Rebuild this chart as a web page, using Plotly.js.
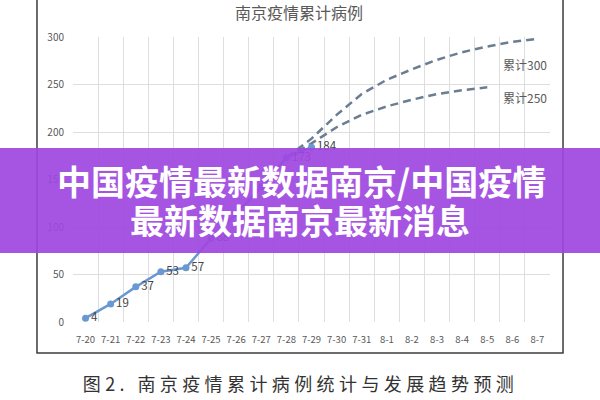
<!DOCTYPE html>
<html>
<head>
<meta charset="utf-8">
<script src="https://cdn.plot.ly/plotly-3.0.1.min.js"></script>
<style>
html,body{margin:0;padding:0;background:#fff;}
#chart{width:600px;height:400px;}
</style>
</head>
<body>
<div id="chart"></div>
<script>
// ---- data ----
const categories = ['7-20','7-21','7-22','7-23','7-24','7-25','7-26','7-27','7-28','7-29',
                    '7-30','7-31','8-1','8-2','8-3','8-4','8-5','8-6','8-7'];
const actualDates = ['7-20','7-21','7-22','7-23','7-24','7-25','7-26','7-27','7-28','7-29'];
const actualCases = [4, 19, 37, 53, 57, 88, 114, 142, 173, 184];
// labels hidden behind the banner in the reference are left blank
const actualLabels = ['4','19','37','53','57','88','','','173','184'];
const forecast300Dates = ['7-28','7-29','7-30','7-31','8-1','8-2','8-3','8-4','8-5','8-6','8-7'];
const forecast300 = [173, 193, 218, 240, 255, 266, 276, 284, 290, 295, 298];
const forecast250Dates = ['7-28','7-29','7-30','7-31','8-1','8-2','8-3','8-4','8-5'];
const forecast250 = [173, 188, 205, 218, 227, 234, 240, 244, 247];
const yTicks = [0, 50, 100, 150, 200, 250, 300];

const chartTitle = '南京疫情累计病例';
const label300 = '累计300';
const label250 = '累计250';
const bannerLine1 = '中国疫情最新数据南京/中国疫情';
const bannerLine2 = '最新数据南京最新消息';
const caption = '图2. 南京疫情累计病例统计与发展趋势预测';

const CJK = '"Noto Sans CJK SC", "Noto Sans", sans-serif';

const traces = [
  {
    x: forecast300Dates, y: forecast300, type: 'scatter', mode: 'lines',
    line: {color: '#6b7d92', width: 2.5, dash: '8px,5px'}, hoverinfo: 'skip'
  },
  {
    x: forecast250Dates, y: forecast250, type: 'scatter', mode: 'lines',
    line: {color: '#6b7d92', width: 2.5, dash: '8px,5px'}, hoverinfo: 'skip'
  },
  {
    x: actualDates, y: actualCases, type: 'scatter', mode: 'lines+markers+text',
    line: {color: '#6a98d0', width: 2.5},
    marker: {color: '#6a98d0', size: 7},
    text: actualLabels,
    textposition: 'middle right',
    textfont: {family: CJK, size: 11.5, color: '#454545'},
    cliponaxis: false
  }
];

const layout = {
  width: 600, height: 400,
  margin: {l: 73, r: 50, t: 37, b: 78},
  paper_bgcolor: '#ffffff', plot_bgcolor: '#ffffff',
  showlegend: false,
  font: {family: CJK, color: '#595959'},
  xaxis: {
    type: 'category', categoryorder: 'array', categoryarray: categories,
    range: [-0.5, categories.length - 0.5],
    tickson: 'boundaries', showgrid: true, gridcolor: '#dedede', gridwidth: 1,
    ticks: '', showline: false, zeroline: false, tickangle: 0,
    tickfont: {family: CJK, size: 9.5, color: '#595959'},
    ticklabelstandoff: 10, fixedrange: true
  },
  yaxis: {
    range: [0, 300], tickvals: yTicks, ticktext: yTicks.map(String),
    showgrid: true, gridcolor: '#dedede', gridwidth: 1,
    zeroline: false, showline: false, ticks: '',
    tickfont: {family: CJK, size: 10, color: '#595959'},
    ticklabelstandoff: 8, fixedrange: true
  },
  shapes: [
    {type: 'rect', xref: 'paper', yref: 'paper',
     x0: -0.0755, x1: 1.0273, y0: -0.1088, y1: 1.25,
     line: {color: '#3c3c3c', width: 1.5}, fillcolor: 'rgba(0,0,0,0)', layer: 'below'},
    {type: 'rect', xref: 'paper', yref: 'paper',
     x0: -0.2, x1: 1.2, y0: 0.242, y1: 0.6105,
     line: {width: 0}, fillcolor: 'rgba(158,70,224,0.92)', layer: 'above'}
  ],
  annotations: [
    {text: chartTitle, xref: 'paper', yref: 'paper', x: 0.473, y: 1.088,
     xanchor: 'center', yanchor: 'middle', showarrow: false,
     font: {family: CJK, size: 16, color: '#595959'}},
    {text: label300, xref: 'paper', yref: 'paper', x: 0.897, y: 0.902,
     xanchor: 'left', yanchor: 'middle', showarrow: false,
     font: {family: CJK, size: 12, color: '#595959'}},
    {text: label250, xref: 'paper', yref: 'paper', x: 0.897, y: 0.786,
     xanchor: 'left', yanchor: 'middle', showarrow: false,
     font: {family: CJK, size: 12, color: '#595959'}},
    {text: '<b>' + bannerLine1 + '</b>', xref: 'paper', yref: 'paper', x: 0.478, y: 0.495,
     xanchor: 'center', yanchor: 'middle', showarrow: false,
     font: {family: CJK, size: 34, color: '#ffffff'}},
    {text: '<b>' + bannerLine2 + '</b>', xref: 'paper', yref: 'paper', x: 0.476, y: 0.358,
     xanchor: 'center', yanchor: 'middle', showarrow: false,
     font: {family: CJK, size: 34, color: '#ffffff'}},
    {text: caption, xref: 'paper', yref: 'paper', x: 0.476, y: -0.214,
     xanchor: 'center', yanchor: 'middle', showarrow: false,
     font: {family: CJK, size: 18, color: '#333333'}}
  ]
};

Plotly.newPlot('chart', traces, layout, {displayModeBar: false, staticPlot: true}).then(function () {
  document.querySelectorAll('.annotation-text').forEach(function (t) {
    if (t.textContent === caption) {
      t.style.letterSpacing = '4.4px';
    }
  });
});
</script>
</body>
</html>
